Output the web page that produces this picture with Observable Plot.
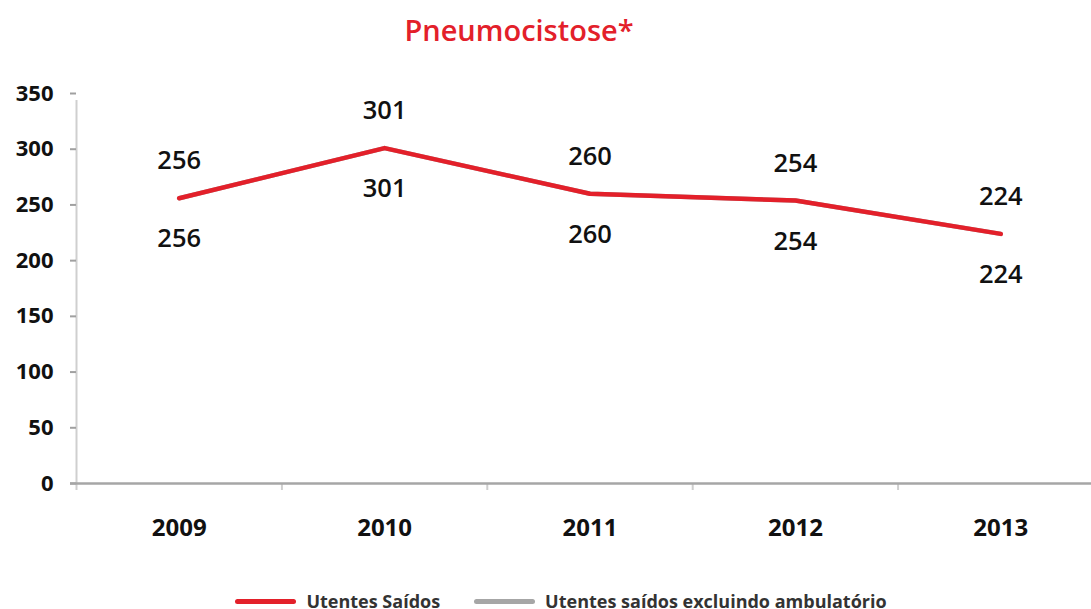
<!DOCTYPE html>
<html>
<head>
<meta charset="utf-8">
<script src="https://cdn.jsdelivr.net/npm/d3@7"></script>
<script src="https://cdn.jsdelivr.net/npm/@observablehq/plot@0.6"></script>
<style>
  html, body { margin: 0; padding: 0; background: #fff; }
  #wrap { position: relative; width: 1091px; height: 609px; overflow: hidden; font-family: "Open Sans", sans-serif; }
  #title { position: absolute; left: 0; top: 10px; width: 1038px; text-align: center; font-size: 29px; font-weight: 600; color: #e3202a; line-height: 40px; }
  #legend { position: absolute; left: 0; top: 591px; width: 1122px; display: flex; justify-content: center; align-items: center; font-size: 18px; font-weight: 700; color: #333; line-height: 20px; }
  .sw { display: inline-block; width: 61px; height: 5px; border-radius: 3px; margin-right: 10px; }
  .item { display: flex; align-items: center; margin: 0 17px; }
</style>
</head>
<body>
<div id="wrap"></div>
<script>
const years = [2009, 2010, 2011, 2012, 2013];
const utentesSaidos = [256, 301, 260, 254, 224];
const utentesExclAmb = [256, 301, 260, 254, 224];
const yTicks = [0, 50, 100, 150, 200, 250, 300, 350];
const seriesNames = ["Utentes Saídos", "Utentes saídos excluindo ambulatório"];
const seriesColors = ["#e3202a", "#a6a6a6"];
const titleText = "Pneumocistose*";

const s1 = years.map((y, i) => ({year: y, value: utentesSaidos[i]}));
const s2 = years.map((y, i) => ({year: y, value: utentesExclAmb[i]}));
const boundaries = [years[0] - 0.5, ...years.map(y => y + 0.5)];

const plot = Plot.plot({
  width: 1091,
  height: 609,
  marginTop: 93,
  marginBottom: 126,
  marginLeft: 76,
  marginRight: -12,
  style: {fontFamily: "Open Sans, sans-serif", background: "transparent", maxWidth: "none", overflow: "visible"},
  x: {type: "linear", domain: [years[0] - 0.5, years[years.length - 1] + 0.5], label: null},
  y: {domain: [0, 350], label: null},
  marks: [
    Plot.ruleX([years[0] - 0.5], {y1: 0, y2: 350, stroke: "#cfcfcf", strokeWidth: 2, insetBottom: -7}),
    Plot.axisX({ticks: boundaries, tickSize: 7, tickFormat: () => "", stroke: "#cfcfcf", strokeWidth: 2, strokeOpacity: 1, label: null}),
    Plot.axisX({ticks: years, tickSize: 0, tickPadding: 35, tickFormat: d => String(d), fontSize: 24, fontWeight: 700, fill: "#111", label: null}),
    Plot.axisY({ticks: yTicks, tickSize: 6, tickPadding: 17, stroke: "#a0a0a0", strokeWidth: 2, strokeOpacity: 1, fontSize: 22, fontWeight: 700, fill: "#111", label: null}),
    Plot.ruleY([0], {stroke: "#a6a6a6", strokeWidth: 2.5, insetLeft: -6}),
    Plot.line(s2, {x: "year", y: "value", stroke: seriesColors[1], strokeWidth: 4.5, strokeLinecap: "round"}),
    Plot.line(s1, {x: "year", y: "value", stroke: seriesColors[0], strokeWidth: 4.5, strokeLinecap: "round", strokeLinejoin: "round"}),
    Plot.text(s1, {x: "year", y: "value", text: d => String(d.value), dy: -37, fontSize: 25.5, fontWeight: 600, fill: "#111"}),
    Plot.text(s2, {x: "year", y: "value", text: d => String(d.value), dy: 41, fontSize: 25.5, fontWeight: 600, fill: "#111"})
  ]
});

const wrap = document.getElementById("wrap");
wrap.appendChild(plot);

const title = document.createElement("div");
title.id = "title";
title.textContent = titleText;
wrap.appendChild(title);

const legend = document.createElement("div");
legend.id = "legend";
seriesNames.forEach((name, i) => {
  const item = document.createElement("div");
  item.className = "item";
  const sw = document.createElement("span");
  sw.className = "sw";
  sw.style.background = seriesColors[i];
  const t = document.createElement("span");
  t.textContent = name;
  item.appendChild(sw);
  item.appendChild(t);
  legend.appendChild(item);
});
wrap.appendChild(legend);
</script>
</body>
</html>
